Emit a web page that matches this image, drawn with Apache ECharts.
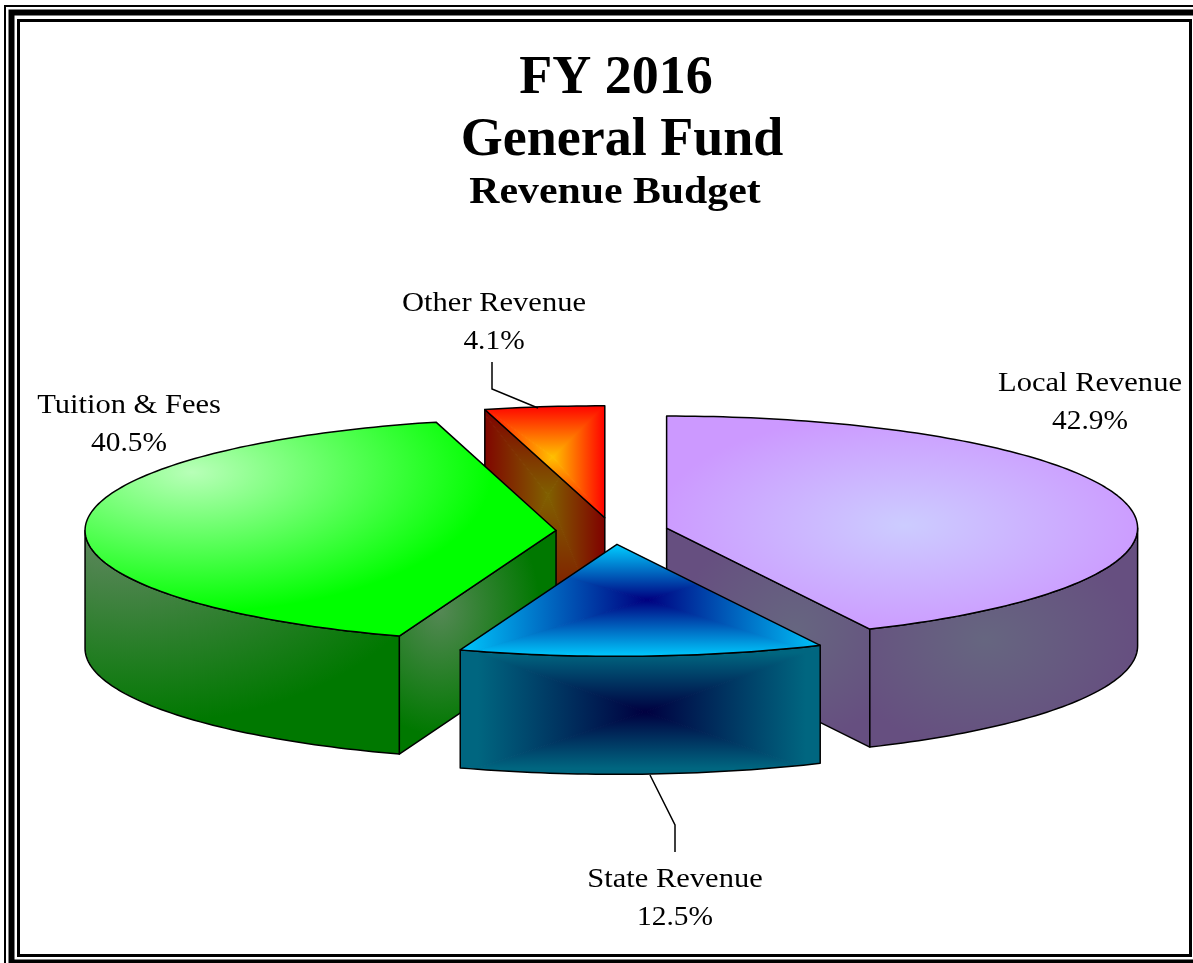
<!DOCTYPE html>
<html>
<head>
<meta charset="utf-8">
<title>FY 2016 General Fund Revenue Budget</title>
<style>
  html, body { margin: 0; padding: 0; background: #fff; }
  #chart { width: 1193px; height: 963px; }
</style>
</head>
<body>
<div id="chart"></div>
<script src="https://cdn.jsdelivr.net/npm/echarts@6/dist/echarts.min.js"></script>
<script>
var categories = ['Local Revenue', 'State Revenue', 'Tuition & Fees', 'Other Revenue'];
var revenueShare = [42.9, 12.5, 40.5, 4.1];

// pie geometry, in pixels
var cx = 612, cy = 531, rx = 471, ry = 112, depth = 118, explode = 56;
var fontName = '"Liberation Serif", "Times New Roman", serif';

// where each label sits, and its leader line if it has one
var labelPos = [
  { x: 1090, y: 403 },
  { x: 675, y: 899, leader: [[650, 775], [675, 825], [675, 852]] },
  { x: 129, y: 425 },
  { x: 494, y: 323, leader: [[492, 362], [492, 389], [538, 408]] }
];

// small sideways correction per slice
var sliceNudge = [0, 2, 0, 0];

// fills: 'box' is a rectangular path gradient, 'oval' an elliptical one
// hold = share of the way out where the edge colour is already reached
var sliceFills = [
  {
    top: { kind: 'oval', c: [905, 525], r: [250, 112], stops: ['#ccccff', '#cc99ff'] },
    arc: { kind: 'oval', c: [985, 640], r: [150, 110], stops: ['#666680', '#664f80'] },
    cut: { kind: 'oval', c: [795, 630], r: [115, 110], stops: ['#666680', '#664f80'] }
  },
  {
    top: { kind: 'box', c: [647, 600], box: [455, 545, 828, 657], stops: ['#000080', '#00ccff'] },
    arc: { kind: 'box', c: [645, 712], box: [455, 645, 828, 776], stops: ['#000040', '#006680'], hold: 0.88 }
  },
  {
    top: { kind: 'oval', c: [192, 472], r: [300, 140], stops: ['#b8ffb8', '#00ff00'] },
    arc: { kind: 'oval', c: [130, 525], r: [320, 200], stops: ['#668866', '#007800'] },
    cut: { kind: 'oval', c: [440, 610], r: [100, 125], stops: ['#558855', '#007800'] }
  },
  {
    top: { kind: 'box', c: [553, 457], box: [481, 405, 605, 518], stops: ['#ffc000', '#ff0000'] },
    cut: { kind: 'box', c: [548, 495], box: [481, 410, 605, 636], stops: ['#806000', '#800000'] }
  }
];

var total = revenueShare.reduce(function (a, b) { return a + b; }, 0);
var startAngles = [];
var running = 0;
for (var i = 0; i < revenueShare.length; i++) {
  startAngles.push(running / total * Math.PI * 2);
  running += revenueShare[i];
}

// angle runs clockwise from 12 o'clock
function rim(x0, y0, a) {
  return [x0 + rx * Math.sin(a), y0 - ry * Math.cos(a)];
}

function arcPoints(x0, y0, a, b) {
  var pts = [];
  var n = Math.max(2, Math.ceil((b - a) / 0.02));
  for (var k = 0; k <= n; k++) {
    pts.push(rim(x0, y0, a + (b - a) * k / n));
  }
  return pts;
}

function drop(pts) {
  return pts.map(function (p) { return [p[0], p[1] + depth]; }).reverse();
}

function gradientStops(fill) {
  return [
    { offset: 0, color: fill.stops[0] },
    { offset: fill.hold || 1, color: fill.stops[1] },
    { offset: 1, color: fill.stops[1] }
  ];
}

function linear(x, y, x2, y2, fill) {
  return { type: 'linear', global: true, x: x, y: y, x2: x2, y2: y2, colorStops: gradientStops(fill) };
}

function fillShape(pts, fill) {
  if (fill.kind === 'oval') {
    // radial gradient squashed through a scale, so it comes out elliptical
    var k = fill.r[0] / fill.r[1];
    return {
      type: 'polygon',
      originX: 0,
      originY: fill.c[1],
      scaleY: 1 / k,
      shape: { points: pts.map(function (p) { return [p[0], fill.c[1] + (p[1] - fill.c[1]) * k]; }) },
      style: {
        fill: { type: 'radial', global: true, x: fill.c[0], y: fill.c[1], r: fill.r[0], colorStops: gradientStops(fill) }
      }
    };
  }
  // four wedges, each with a straight gradient, clipped to the shape
  var c = fill.c, b = fill.box;
  var corners = [[b[0], b[1]], [b[2], b[1]], [b[2], b[3]], [b[0], b[3]]];
  var ends = [[c[0], b[1]], [b[2], c[1]], [c[0], b[3]], [b[0], c[1]]];
  var wedges = [];
  for (var w = 0; w < 4; w++) {
    var paint = linear(c[0], c[1], ends[w][0], ends[w][1], fill);
    wedges.push({
      type: 'polygon',
      shape: { points: [c, corners[w], corners[(w + 1) % 4]] },
      style: { fill: paint, stroke: paint, lineWidth: 1 }
    });
  }
  return {
    type: 'group',
    clipPath: { type: 'polygon', shape: { points: pts } },
    children: wedges
  };
}

function outline(pts) {
  return {
    type: 'polygon',
    shape: { points: pts },
    style: { fill: null, stroke: '#000', lineWidth: 1.5, lineJoin: 'round' }
  };
}

// the reference sets its labels wider than the font, so each line gets a scaleX
function labelLine(text, x, y, stretch) {
  return {
    type: 'text',
    x: x,
    y: y,
    scaleX: stretch,
    style: {
      text: text,
      fontFamily: fontName,
      fontSize: 28,
      fill: '#000',
      align: 'center',
      verticalAlign: 'middle'
    }
  };
}

function renderSlice(params, api) {
  var idx = api.value(0);
  var share = api.value(1);
  var a = startAngles[idx];
  var b = a + share / total * Math.PI * 2;
  var mid = (a + b) / 2;
  var x0 = cx + explode * Math.sin(mid) + sliceNudge[idx];
  var y0 = cy - explode * (ry / rx) * Math.cos(mid);
  var fills = sliceFills[idx];
  var kids = [];

  function addFace(pts, fill) {
    kids.push(fillShape(pts, fill));
    kids.push(outline(pts));
  }

  // flat walls along the cuts, only where they face the viewer
  if (Math.sin(a) < -1e-6) {
    var pa = rim(x0, y0, a);
    addFace([pa, [x0, y0], [x0, y0 + depth], [pa[0], pa[1] + depth]], fills.cut);
  }
  if (Math.sin(b) > 1e-6) {
    var pb = rim(x0, y0, b);
    addFace([[x0, y0], pb, [pb[0], pb[1] + depth], [x0, y0 + depth]], fills.cut);
  }

  // curved outer wall: only the front half of the rim is seen
  var from = Math.max(a, Math.PI / 2);
  var to = Math.min(b, Math.PI * 1.5);
  if (to > from) {
    var edge = arcPoints(x0, y0, from, to);
    addFace(edge.concat(drop(edge)), fills.arc);
  }

  addFace([[x0, y0]].concat(arcPoints(x0, y0, a, b)), fills.top);

  var pos = labelPos[idx];
  if (pos.leader) {
    kids.push({
      type: 'polyline',
      shape: { points: pos.leader },
      style: { fill: null, stroke: '#000', lineWidth: 1.5 }
    });
  }
  kids.push(labelLine(categories[idx], pos.x, pos.y - 19, 1.09));
  kids.push(labelLine(share.toFixed(1) + '%', pos.x, pos.y + 19, 1.05));
  return { type: 'group', children: kids };
}

// draw back to front
var drawOrder = categories.map(function (n, i) { return i; }).sort(function (p, q) {
  var mp = startAngles[p] + revenueShare[p] / total * Math.PI;
  var mq = startAngles[q] + revenueShare[q] / total * Math.PI;
  return Math.cos(mq) - Math.cos(mp);
});

function frameRect(x, y, w, h, width) {
  return {
    type: 'rect',
    silent: true,
    shape: { x: x, y: y, width: w, height: h },
    style: { fill: null, stroke: '#000', lineWidth: width }
  };
}

var chart = echarts.init(document.getElementById('chart'));
chart.setOption({
  animation: false,
  backgroundColor: '#fff',
  title: [
    { text: 'FY 2016', left: 611, top: 47, textAlign: 'center',
      textStyle: { fontFamily: fontName, fontSize: 54, fontWeight: 'bold', color: '#000' } },
    { text: 'General Fund', left: 617, top: 109, textAlign: 'center',
      textStyle: { fontFamily: fontName, fontSize: 54, fontWeight: 'bold', color: '#000' } }
  ],
  graphic: [
    frameRect(5, 6, 1300, 1100, 2),
    frameRect(11.5, 12.5, 1300, 950, 6),
    frameRect(18.5, 20.5, 1172, 935, 3),
    {
      type: 'text',
      x: 615,
      y: 193,
      scaleX: 1.1,
      silent: true,
      style: {
        text: 'Revenue Budget',
        fontFamily: fontName,
        fontSize: 38,
        fontWeight: 'bold',
        fill: '#000',
        align: 'center',
        verticalAlign: 'middle'
      }
    }
  ],
  series: [{
    type: 'custom',
    coordinateSystem: 'none',
    silent: true,
    renderItem: renderSlice,
    data: drawOrder.map(function (i) { return [i, revenueShare[i]]; })
  }]
});
</script>
</body>
</html>
